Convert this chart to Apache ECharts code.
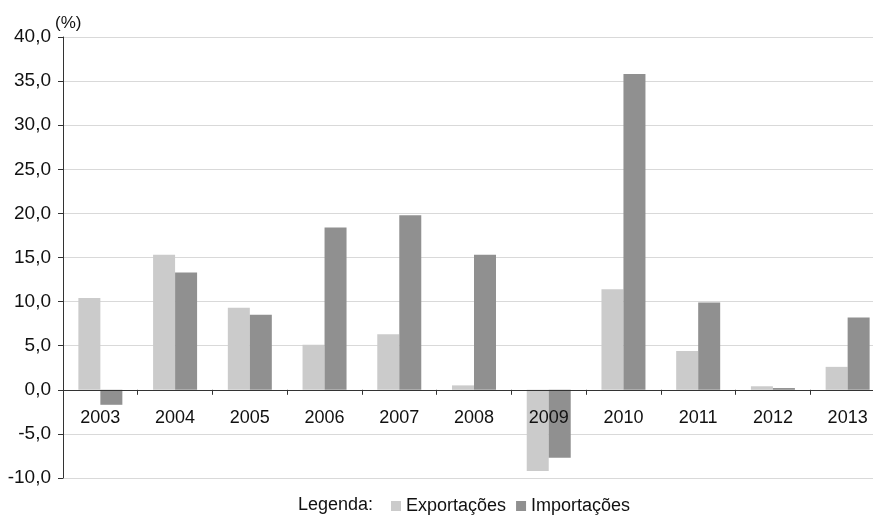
<!DOCTYPE html>
<html>
<head>
<meta charset="utf-8">
<script src="https://cdn.jsdelivr.net/npm/echarts@6/dist/echarts.min.js"></script>
<style>
html,body{margin:0;padding:0;background:#fff;overflow:hidden;width:873px;height:516px;}
#chart{width:885px;height:516px;}
</style>
</head>
<body>
<div id="chart"></div>
<script>
var categories = ['2003','2004','2005','2006','2007','2008','2009','2010','2011','2012','2013'];
var exportacoes = [10.4, 15.3, 9.3, 5.1, 6.3, 0.5, -9.2, 11.4, 4.4, 0.4, 2.6];
var importacoes = [-1.7, 13.3, 8.5, 18.4, 19.8, 15.3, -7.7, 35.8, 9.9, 0.2, 8.2];
var seriesNames = ['Exportações', 'Importações'];
var legendTitle = 'Legenda:';
var unitLabel = '(%)';

var FONT = '"Liberation Sans", Arial, sans-serif';
var GRID_TOP = 37, GRID_BOTTOM = 38, Y_MIN = -10, Y_MAX = 40;
var plotH = 516 - GRID_TOP - GRID_BOTTOM;
var zeroOffset = -plotH * (0 - Y_MIN) / (Y_MAX - Y_MIN);

var chart = echarts.init(document.getElementById('chart'));
chart.setOption({
  animation: false,
  backgroundColor: '#ffffff',
  textStyle: { fontFamily: FONT },
  grid: { left: 63, top: GRID_TOP, bottom: GRID_BOTTOM, right: 0, containLabel: false },
  legend: {
    left: 391, top: 497,
    itemWidth: 10, itemHeight: 10, itemGap: 10,
    icon: 'rect',
    padding: 0,
    textStyle: { fontSize: 18, color: '#111', fontFamily: FONT },
    data: seriesNames
  },
  graphic: [
    { type: 'text', left: 298, top: 496, style: { text: legendTitle, fontSize: 18, fill: '#111', fontFamily: FONT } },
    { type: 'text', left: 55, top: 15, style: { text: unitLabel, fontSize: 17, fill: '#111', fontFamily: FONT } }
  ],
  xAxis: {
    type: 'category',
    data: categories,
    z: 10,
    offset: zeroOffset,
    axisLine: { onZero: false, lineStyle: { color: '#333', width: 1 } },
    axisTick: { show: true, length: 5, alignWithLabel: false, lineStyle: { color: '#333' } },
    axisLabel: { margin: 19, fontSize: 18, color: '#111', fontFamily: FONT },
    splitLine: { show: false }
  },
  yAxis: {
    type: 'value',
    min: Y_MIN, max: Y_MAX, interval: 5,
    axisLine: { show: true, lineStyle: { color: '#333', width: 1 } },
    axisTick: { show: true, length: 5, lineStyle: { color: '#333' } },
    axisLabel: {
      margin: 12, fontSize: 19, color: '#111', fontFamily: FONT,
      formatter: function (v) { return v.toFixed(1).replace('.', ','); }
    },
    splitLine: { show: true, lineStyle: { color: '#d9d9d9', width: 1 } }
  },
  series: [
    { name: seriesNames[0], type: 'bar', data: exportacoes, barWidth: 22, barGap: '0%', itemStyle: { color: '#cbcbcb' } },
    { name: seriesNames[1], type: 'bar', data: importacoes, barWidth: 22, barGap: '0%', itemStyle: { color: '#909090' } }
  ]
});
</script>
</body>
</html>
